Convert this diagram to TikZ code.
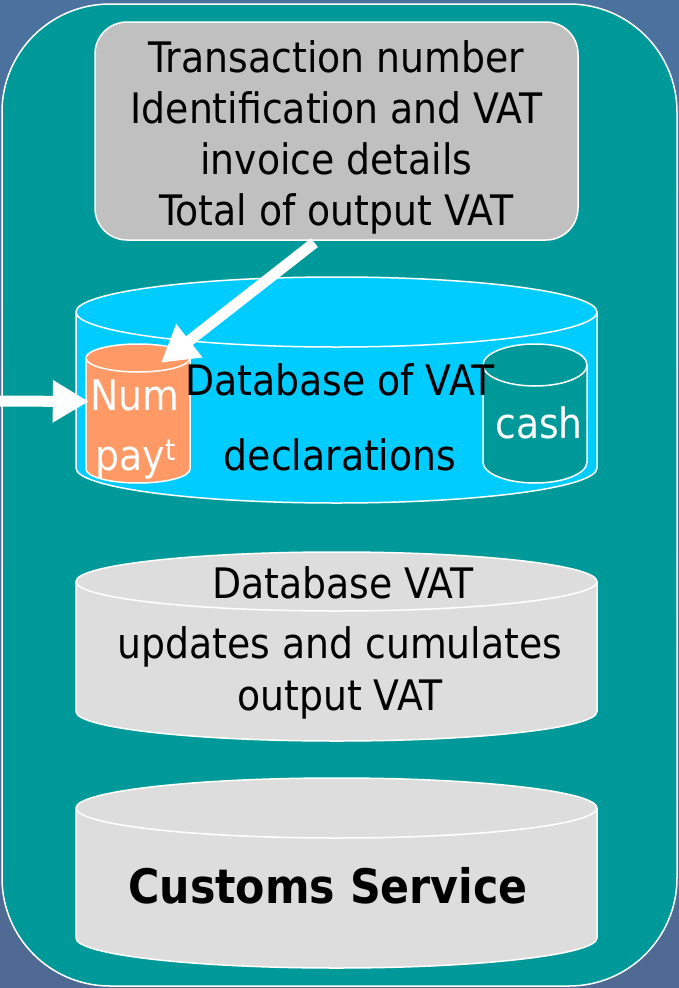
\documentclass[tikz,border=0pt]{standalone}
\usepackage{fontspec}
\setmainfont{DejaVu Sans Condensed}
\usetikzlibrary{arrows.meta,calc}

\definecolor{bgtop}{HTML}{4B729F}
\definecolor{bgbot}{HTML}{4F6A92}
\definecolor{panelteal}{HTML}{009999}
\definecolor{dbcyan}{HTML}{00CCFF}
\definecolor{salmon}{HTML}{FF9966}
\definecolor{boxgray}{HTML}{C0C0C0}
\definecolor{dbgray}{HTML}{DDDDDD}

% drum: name, centre x, centre y, width, height, end radius, fill
\newcommand\drum[7]{%
  \node[minimum width=#4pt,minimum height=#5pt,inner sep=0pt] (#1) at (#2,#3) {};
  \path[draw=white,line width=1.5pt,fill=#7]
    ({#2-#4/2},{#3-#5/2+#6}) arc[start angle=180,end angle=360,x radius=#4/2,y radius=#6]
    -- ({#2+#4/2},{#3+#5/2-#6}) arc[start angle=0,end angle=180,x radius=#4/2,y radius=#6] -- cycle;
  \draw[white,line width=1.5pt]
    ({#2-#4/2},{#3-#5/2+#6}) arc[start angle=180,end angle=0,x radius=#4/2,y radius=#6];
}

\begin{document}
\begin{tikzpicture}[x=1pt,y=-1pt,
    txt/.style={font=\fontsize{42}{51}\selectfont,inner sep=0pt},
    fat/.style={draw=white,line width=11pt,-{Triangle[width=40pt,length=36pt]}}]
    % background and panel
    \fill[top color=bgtop,bottom color=bgbot] (0,0) rectangle (679,988);
    \useasboundingbox (0,0) rectangle (679,988);
    \node[draw=white,line width=1.5pt,fill=panelteal,rounded corners=108pt,
          minimum width=675pt,minimum height=982pt] (panel) at (339.5,495) {};
    % input box
    \node[draw=white,line width=1.5pt,fill=boxgray,rounded corners=32pt,
          minimum width=483pt,minimum height=218pt] (info) at (336.5,131) {};
    \node[txt,align=center] (infotxt) at ($(info)+(0,6.5)$)
          {Transaction number\\Identification and VAT\\invoice details\\Total of output VAT};
    % database of declarations
    \drum{decl}{336.5}{390}{521}{226}{35}{dbcyan}
    \drum{num}{138}{413.5}{104}{139}{14}{salmon}
    \drum{cash}{535}{413.5}{104}{139}{21}{panelteal}
    \node[txt,anchor=base,text=white] (numtxt) at (135,410) {Num};
    \node[txt,anchor=base,text=white] (paytxt) at (136,470) {pay\textsuperscript{t}};
    \node[txt,anchor=base,text=white] (cashtxt) at (539,438) {cash};
    \node[txt,anchor=base] (decltxt) at (340,395) {Database of VAT};
    \node[txt,anchor=base] (decltxtb) at (340,470) {declarations};
    % cumulating database
    \drum{cumul}{336.5}{646.5}{521}{189}{29.5}{dbgray}
    \node[txt,anchor=base] (cumultxt) at (343,598) {Database VAT};
    \node[txt,anchor=base] (cumultxtb) at (340,658) {updates and cumulates};
    \node[txt,anchor=base] (cumultxtc) at (340,710) {output VAT};
    % customs
    \drum{customs}{336.5}{873}{521}{190}{30}{dbgray}
    \node[txt,anchor=base,font=\fontsize{47.5}{51}\selectfont\bfseries] (customstxt) at (328,903) {Customs Service};
    % arrows
    \coordinate (src) at (0,401);
    \draw[fat] ($(info.south)+(-22,2)$) -- ($(num.north)+(23,19)$);
    \draw[fat] (src) -- ($(num.west)+(3,-12)$);
\end{tikzpicture}
\end{document}
